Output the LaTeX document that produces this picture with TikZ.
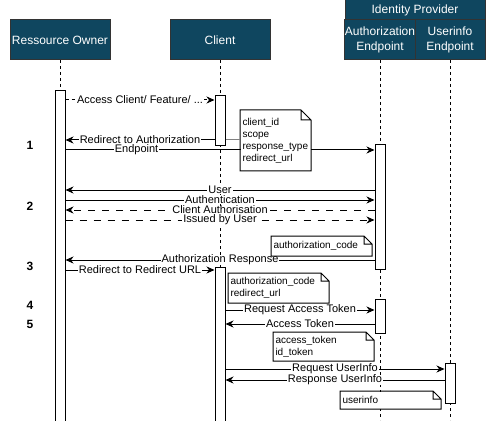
\documentclass[tikz,border=0pt]{standalone}
\usepackage{fontspec}
\setmainfont{Liberation Sans}
\usetikzlibrary{arrows.meta,positioning}
\definecolor{hdrblue}{HTML}{0F465F}

\begin{document}
\begin{tikzpicture}[x=1pt,y=-1pt,line width=1pt,
    header/.style={draw=black!80, fill=hdrblue, text=white, align=center,
        font=\fontsize{12}{15}\selectfont, inner sep=0, outer sep=0},
    lifeline/.style={dash pattern=on 3pt off 3pt, line width=0.8pt},
    bar/.style={draw, fill=white, minimum width=10pt, inner sep=0, anchor=north},
    msg/.style={-{Stealth[length=8pt,width=7pt,inset=2.5pt]}},
    lbl/.style={fill=white, inner xsep=1pt, inner ysep=0pt, font=\fontsize{11}{13}\selectfont},
    notebox/.style={fill=white, inner xsep=2pt, inner ysep=0pt, anchor=north west,
        align=left, font=\fontsize{10}{12}\selectfont},
    stepnum/.style={font=\fontsize{12}{14}\selectfont\bfseries}]

        \useasboundingbox (0,0) rectangle (486,430);
        \clip (-1,-1) rectangle (487,420);

        % Participants
        \node[header, minimum width=100pt, minimum height=40pt] (owner) at (60,40) {Ressource Owner};
        \node[header, minimum width=100pt, minimum height=40pt] (client) at (220,40) {Client};
        \node[header, minimum width=140pt, minimum height=20pt] (idp) at (415,10) {Identity Provider};
        \node[header, minimum width=70pt, minimum height=40pt] (authep) at (380,40) {Authorization\\Endpoint};
        \node[header, minimum width=70pt, minimum height=40pt,
        right=0pt of authep] (userep) {Userinfo\\Endpoint};

        % Lifelines
        \draw[lifeline] (owner.south) -- (owner |- 0,420);
        \draw[lifeline] (client.south) -- (client |- 0,420);
        \draw[lifeline] (authep.south) -- (authep |- 0,420);
        \draw[lifeline] (userep.south) -- (userep |- 0,420);

        % Activations
        \node[bar, minimum height=340pt] (ownerbar) at (owner |- 0,90) {};
        \node[bar, minimum height=50pt] (clientbar1) at (client |- 0,95) {};
        \node[bar, minimum height=125pt] (authbar1) at (authep |- 0,144) {};
        \node[bar, minimum height=163pt] (clientbar2) at (client |- 0,267) {};
        \node[bar, minimum height=34pt] (authbar2) at (authep |- 0,299) {};
        \node[bar, minimum height=40pt] (userbar) at (userep |- 0,363) {};

        % Step numbers
        \node[stepnum] (step1) at (30,145) {1};
        \node[stepnum] (step2) at (30,206) {2};
        \node[stepnum] (step3) at (30,266) {3};
        \node[stepnum] (step4) at (30,305) {4};
        \node[stepnum] (step5) at (30,324) {5};

        % Messages
        \draw[msg, dash pattern=on 3pt off 3pt] (ownerbar.east |- 0,100) -- (clientbar1.west |- 0,100)
            node[lbl, midway] {Access Client/ Feature/ ...};
        \draw[msg] (clientbar1.west |- 0,140) -- (ownerbar.east |- 0,140)
            node[lbl, midway] {Redirect to Authorization};
        \draw[msg] (ownerbar.east |- 0,150) -- (authbar1.west |- 0,150)
            node[lbl, pos=0.23] {Endpoint};
        \draw[msg] (authbar1.west |- 0,190) -- (ownerbar.east |- 0,190)
            node[lbl, midway] {User};
        \draw[msg] (ownerbar.east |- 0,200) -- (authbar1.west |- 0,200)
            node[lbl, midway] {Authentication};
        \draw[msg, dash pattern=on 7pt off 7pt] (authbar1.west |- 0,210) -- (ownerbar.east |- 0,210)
            node[lbl, midway] {Client Authorisation};
        \draw[msg, dash pattern=on 7pt off 7pt] (ownerbar.east |- 0,220) -- (authbar1.west |- 0,220)
            node[lbl, midway] {Issued by User};
        \draw[msg] (authbar1.west |- 0,260) -- (ownerbar.east |- 0,260)
            node[lbl, midway] {Authorization Response};
        \draw[msg] (ownerbar.east |- 0,270) -- (clientbar2.west |- 0,270)
            node[lbl, midway] {Redirect to Redirect URL};
        \draw[msg] (clientbar2.east |- 0,310) -- (authbar2.west |- 0,310)
            node[lbl, midway] {Request Access Token};
        \draw[msg] (authbar2.west |- 0,324) -- (clientbar2.east |- 0,324)
            node[lbl, midway] {Access Token};
        \draw[msg] (clientbar2.east |- 0,369) -- (userbar.west |- 0,369)
            node[lbl, midway] {Request UserInfo};
        \draw[msg] (userbar.west |- 0,380) -- (clientbar2.east |- 0,380)
            node[lbl, midway] {Response UserInfo};

        % Notes
        \node[notebox, text width=66pt, minimum height=60pt] (note1) at (240,110)
            {client\_id\\scope\\response\_type\\redirect\_url};
        \node[notebox, text width=96pt, minimum height=19pt] (note2) at (271,236)
            {authorization\_code};
        \node[notebox, text width=96pt, minimum height=29pt] (note3) at (228,273)
            {authorization\_code\\redirect\_url};
        \node[notebox, text width=96pt, minimum height=28pt] (note4) at (273,332)
            {access\_token\\id\_token};
        \node[notebox, text width=96pt, minimum height=17pt] (note5) at (340,391)
            {userinfo};
        \foreach \n/\f in {note1/10,note2/8,note3/8,note4/8,note5/8}
            \draw (\n.north west) -- ([xshift=-\f pt]\n.north east) -- ([yshift=-\f pt]\n.north east)
                -- (\n.south east) -- (\n.south west) -- cycle
                ([xshift=-\f pt]\n.north east) |- ([yshift=-\f pt]\n.north east);

        \draw[gray] (clientbar1.east |- 0,140) -- (note1.west |- 0,140);
    \end{tikzpicture}
\end{document}
